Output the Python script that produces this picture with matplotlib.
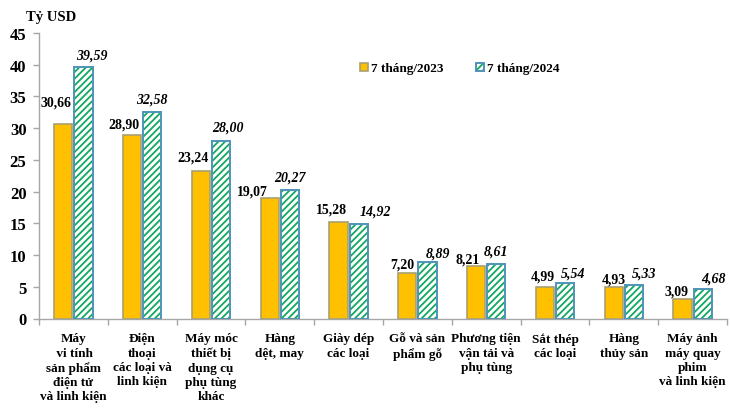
import numpy as np
import matplotlib
matplotlib.use('Agg')
import matplotlib.pyplot as plt
from matplotlib.legend_handler import HandlerTuple

# chart data
categories = ['Máy\n vi tính\nsản phẩm\nđiện tử\nvà linh kiện',
              'Điện\nthoại\ncác loại và\nlinh kiện',
              'Máy móc\nthiết bị\ndụng cụ\nphụ tùng\nkhác',
              'Hàng\ndệt, may',
              'Giày dép\ncác loại',
              'Gỗ và sản\nphẩm gỗ',
              'Phương tiện\nvận tải và\nphụ tùng',
              'Sắt thép\ncác loại',
              'Hàng\nthủy sản',
              'Máy ảnh\nmáy quay\nphim\nvà linh kiện']
values_2023 = [30.66, 28.90, 23.24, 19.07, 15.28, 7.20, 8.21, 4.99, 4.93, 3.09]
values_2024 = [39.59, 32.58, 28.00, 20.27, 14.92, 8.89, 8.61, 5.54, 5.33, 4.68]

# label nudges in pixels, the labels are hand placed in the original
nudge_2023 = [(-7, 22), (-8, 11), (-8, 14), (-17, 6), (-7, 13),
              (-5, 9), (-8, 7), (-2, 11), (0, 8), (-6, 8)]
nudge_2024 = [(8, 12), (-1, 13), (7, 14), (0, 13), (17, 13),
              (10, 9), (0, 13), (8, 10), (10, 12), (11, 11)]

YELLOW = '#FFC000'
YELLOW_EDGE = '#A8A070'
GREEN = '#12A860'
BLUE_EDGE = '#4F94B8'
AXIS = '#A6A6A6'

plt.rcParams['font.family'] = 'Liberation Serif'
plt.rcParams['font.weight'] = 'bold'
plt.rcParams['hatch.linewidth'] = 1.3

fig = plt.figure(figsize=(7.3, 4.14), dpi=100)
ax = fig.add_axes([39 / 730, 1 - 319.5 / 414, 688 / 730, 285.5 / 414])

x = np.arange(len(categories))
width = 0.265
off = 0.148

bars_a = ax.bar(x - off, values_2023, width, color=YELLOW,
                edgecolor=YELLOW_EDGE, linewidth=1.2, zorder=2)
# hatch takes the edge colour, so the outline goes on as a second layer
hatch_b = ax.bar(x + off, values_2024, width, color='white',
                 edgecolor=GREEN, hatch='/////', linewidth=0, zorder=2)
bars_b = ax.bar(x + off, values_2024, width, fill=False,
                edgecolor=BLUE_EDGE, linewidth=1.4, zorder=3)

for xi, v, (dx, dy) in zip(x - off, values_2023, nudge_2023):
    ax.annotate(f'{v:.2f}'.replace('.', ','), (xi, v), xytext=(dx, dy),
                textcoords='offset pixels', ha='center', va='center',
                fontsize=10, color='black')
for xi, v, (dx, dy) in zip(x + off, values_2024, nudge_2024):
    ax.annotate(f'{v:.2f}'.replace('.', ','), (xi, v), xytext=(dx, dy),
                textcoords='offset pixels', ha='center', va='center',
                fontsize=10, style='italic', color='black')

ax.set_xlim(-0.5, 9.5)
ax.set_ylim(0, 45)
ax.set_yticks(range(0, 46, 5))
ax.tick_params(axis='y', labelsize=12, length=4, width=1, color=AXIS, pad=5)

# ticks sit between the groups, labels in the middle of them
ax.set_xticks(np.arange(-0.5, 10, 1))
ax.set_xticklabels([])
ax.tick_params(axis='x', which='major', length=4, width=1, color=AXIS)
ax.set_xticks(x, minor=True)
ax.set_xticklabels(categories, minor=True, fontsize=9.5, linespacing=1.25)
ax.tick_params(axis='x', which='minor', length=0, pad=10)

for side in ['top', 'right']:
    ax.spines[side].set_visible(False)
for side in ['left', 'bottom']:
    ax.spines[side].set_color(AXIS)
    ax.spines[side].set_linewidth(1)

fig.text(26 / 730, 1 - 18 / 414, 'Tỷ USD', fontsize=10.5, va='center')

ax.legend([bars_a, (hatch_b, bars_b)], ['7 tháng/2023', '7 tháng/2024'],
          handler_map={tuple: HandlerTuple(ndivide=1, pad=0)},
          ncol=2, frameon=False, fontsize=9.5, loc='center left',
          bbox_to_anchor=(321 / 688, 1 - 35.5 / 285.5),
          handlelength=0.6, handleheight=0.6, handletextpad=0.23,
          columnspacing=2.5, borderaxespad=0, borderpad=0)

fig.savefig('out.png', dpi=100)
